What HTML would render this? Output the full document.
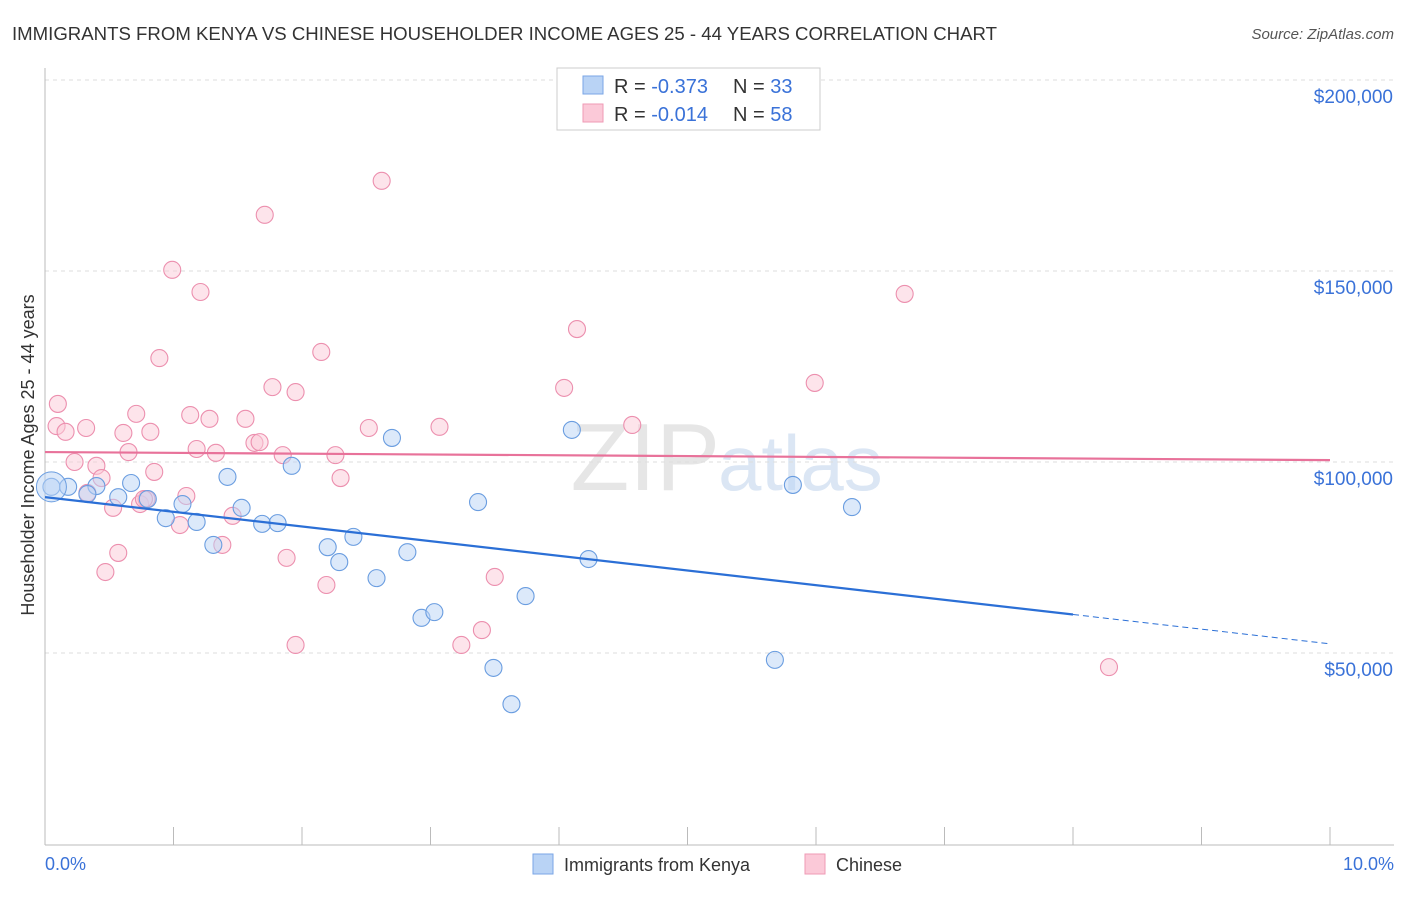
<!DOCTYPE html>
<html><head><meta charset="utf-8"><style>
body{margin:0;background:#fff;font-family:"Liberation Sans",sans-serif;}
svg text{font-family:"Liberation Sans",sans-serif;}
</style></head><body>
<svg id="chart" width="1406" height="892">
<text x="12" y="40" font-size="18" fill="#333" textLength="985" lengthAdjust="spacingAndGlyphs">IMMIGRANTS FROM KENYA VS CHINESE HOUSEHOLDER INCOME AGES 25 - 44 YEARS CORRELATION CHART</text>
<text x="1394" y="39" font-size="15" fill="#555" text-anchor="end" font-style="italic">Source: ZipAtlas.com</text>
<text x="720" y="490" font-size="96" fill="#e6e6e6" text-anchor="end" font-family="Liberation Serif">ZIP</text>
<text x="718" y="490" font-size="78" fill="#dbe6f4">atlas</text>
<g id="grid"></g><g id="axes"></g><g id="marks"></g>
<text transform="translate(34,455) rotate(-90)" font-size="18" fill="#333" text-anchor="middle">Householder Income Ages 25 - 44 years</text>
<text x="45" y="870" font-size="18" fill="#3a72d8">0.0%</text>
<text x="1394" y="870" font-size="18" fill="#3a72d8" text-anchor="end">10.0%</text>
<g>
<rect x="557" y="68" width="263" height="62" fill="#fff" stroke="#ccc"/>
<rect x="583" y="76" width="20" height="18" fill="#b9d3f5" stroke="#7aa6e6"/>
<rect x="583" y="104" width="20" height="18" fill="#fbc9d8" stroke="#ef9ab5"/>
<text x="614" y="93" font-size="20" fill="#333">R = <tspan fill="#3a72d8">-0.373</tspan></text>
<text x="733" y="93" font-size="20" fill="#333">N = <tspan fill="#3a72d8">33</tspan></text>
<text x="614" y="121" font-size="20" fill="#333">R = <tspan fill="#3a72d8">-0.014</tspan></text>
<text x="733" y="121" font-size="20" fill="#333">N = <tspan fill="#3a72d8">58</tspan></text>
</g>
<g>
<rect x="533" y="854" width="20" height="20" fill="#b9d3f5" stroke="#7aa6e6"/>
<text x="564" y="871" font-size="18" fill="#333">Immigrants from Kenya</text>
<rect x="805" y="854" width="20" height="20" fill="#fbc9d8" stroke="#ef9ab5"/>
<text x="836" y="871" font-size="18" fill="#333">Chinese</text>
</g>
</svg>
<script>
const yTicks=[50,100,150,200];
const yTickLabels=["$50,000","$100,000","$150,000","$200,000"];
const xTicks=[0,1,2,3,4,5,6,7,8,9,10];
const kenyaX=[0.05,0.18,0.40,0.57,0.67,0.80,0.94,1.07,1.18,1.31,1.42,1.53,1.69,1.81,1.92,2.20,2.29,2.40,2.58,2.70,2.82,2.93,3.03,3.37,3.49,3.63,3.74,4.10,4.23,5.68,5.82,6.28,0.33];
const kenyaY=[93.5,93.5,93.7,90.8,94.5,90.3,85.3,89.0,84.3,78.3,96.1,88.0,83.8,84.0,99.0,77.7,73.8,80.4,69.6,106.3,76.4,59.2,60.7,89.5,46.1,36.6,64.9,108.4,74.6,48.2,94.0,88.2,91.6];
const chineseX=[0.09,0.10,0.16,0.23,0.32,0.40,0.44,0.33,0.47,0.53,0.57,0.61,0.65,0.71,0.74,0.79,0.82,0.85,0.89,0.99,1.05,1.10,1.13,1.18,1.21,1.28,1.33,1.38,1.46,1.56,1.63,1.67,1.71,1.77,1.85,1.88,1.95,1.95,2.15,2.19,2.26,2.30,2.52,2.62,3.07,3.24,3.40,3.50,4.04,4.14,4.57,5.99,6.69,8.28,0.77];
const chineseY=[109.4,115.2,107.9,100.0,108.9,99.0,95.8,91.9,71.2,88.0,76.2,107.6,102.6,112.6,89.0,90.3,107.9,97.4,127.2,150.3,83.5,91.1,112.3,103.4,144.5,111.3,102.4,78.3,85.9,111.3,105.0,105.2,164.7,119.6,101.8,74.9,118.3,52.1,128.8,67.8,101.8,95.8,108.9,173.6,109.2,52.1,56.0,69.9,119.4,134.8,109.7,120.7,144.0,46.3,90.3];
const kenyaTrend=[90.8,-3.84];
const chineseTrend=[102.6,-0.21];
const sx=v=>45+v*128.5, sy=v=>844-v*3.82;
const NS="http://www.w3.org/2000/svg";
function mk(p,t,a){const e=document.createElementNS(NS,t);for(const k in a)e.setAttribute(k,a[k]);p.appendChild(e);return e;}
const grid=document.getElementById('grid'),axes=document.getElementById('axes'),marks=document.getElementById('marks');
yTicks.forEach((t,i)=>{
 const l=mk(grid,'line',{x1:45,x2:1394,y1:sy(t),y2:sy(t),stroke:'#ddd','stroke-dasharray':'4,4'});
 
 
 const tx=mk(axes,'text',{x:1393,y:sy(t)+23,'font-size':19,fill:'#3a72d8','text-anchor':'end'});
 tx.textContent=yTickLabels[i];
 
 
});
const tl=mk(grid,'line',{x1:45,x2:1394,y1:80,y2:80,stroke:'#ddd','stroke-dasharray':'4,4'});


const ya=mk(axes,'line',{x1:45,x2:45,y1:68,y2:845,stroke:'#bbb'});


const xa=mk(axes,'line',{x1:45,x2:1394,y1:845,y2:845,stroke:'#bbb'});


xTicks.forEach(t=>{
 const l=mk(axes,'line',{x1:sx(t),x2:sx(t),y1:827,y2:845,stroke:'#bbb'});
 
 
});
function dots(X,Y,fill,stroke,name){
 X.forEach((x,i)=>{
  const c=mk(marks,'circle',{cx:sx(x),cy:sy(Y[i]),r:8.5,fill:fill,stroke:stroke,'stroke-width':1.1,'fill-opacity':0.5});
  
  
 });
}
dots(chineseX,chineseY,'#fbc9d8','#ec8fae','chinese-point');
dots(kenyaX,kenyaY,'#b9d3f5','#6a9de0','kenya-point');
const big=mk(marks,'circle',{cx:sx(kenyaX[0]),cy:sy(kenyaY[0]),r:15,fill:'#b9d3f5','fill-opacity':0.5,stroke:'#6a9de0'});


const f=(t,x)=>t[0]+t[1]*x;
const pl=mk(marks,'line',{x1:sx(0),y1:sy(f(chineseTrend,0)),x2:sx(10),y2:sy(f(chineseTrend,10)),stroke:'#e8729a','stroke-width':2.2});


const bl=mk(marks,'line',{x1:sx(0),y1:sy(f(kenyaTrend,0)),x2:sx(8),y2:sy(f(kenyaTrend,8)),stroke:'#2b6fd6','stroke-width':2.2});


const bd=mk(marks,'line',{x1:sx(8),y1:sy(f(kenyaTrend,8)),x2:sx(10),y2:sy(f(kenyaTrend,10)),stroke:'#2b6fd6','stroke-width':1,'stroke-dasharray':'6,4'});


</script>
</body></html>
